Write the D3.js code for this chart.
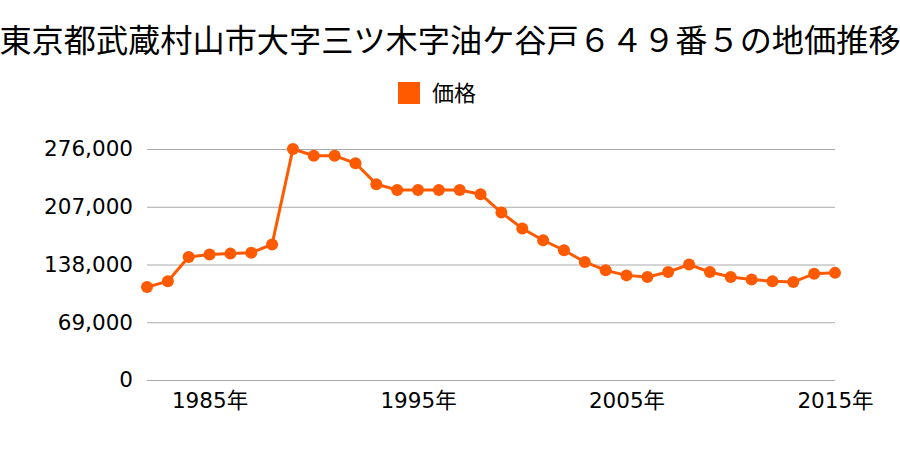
<!DOCTYPE html>
<html><head><meta charset="utf-8">
<script src="https://cdn.jsdelivr.net/npm/d3@7"></script>
<style>body{margin:0;background:#fff;} text{font-family:"Noto Sans CJK JP","Noto Sans",sans-serif;}</style>
</head><body><svg id="c" width="900" height="450"></svg>
<script>
const title = "東京都武蔵村山市大字三ツ木字油ケ谷戸６４９番５の地価推移";
const seriesName = "価格";
const years = [1982,1983,1984,1985,1986,1987,1988,1989,1990,1991,1992,1993,1994,1995,1996,1997,1998,1999,2000,2001,2002,2003,2004,2005,2006,2007,2008,2009,2010,2011,2012,2013,2014,2015];
const prices = [111000,118000,147000,150000,151000,152000,162000,276000,268000,268000,259000,234000,227000,227000,227000,227000,222000,200000,181000,167000,155000,141000,131000,125000,123000,129000,138000,129000,123000,120000,118000,117000,127000,128000];
const yTicks = [0,69000,138000,207000,276000];
const xTicks = [1985,1995,2005,2015];
const color = "#ff5a00";
const axisFont = "'DejaVu Sans','Noto Sans CJK JP',sans-serif";

const svg = d3.select("#c");
const x = d3.scaleLinear().domain([1982,2015]).range([147,835]);
const y = d3.scaleLinear().domain([0,276000]).range([380,149]);

svg.append("text").attr("x",450).attr("y",52).attr("text-anchor","middle")
  .attr("font-size",32.2).attr("fill","#000").text(title);

svg.append("rect").attr("x",398).attr("y",82).attr("width",22).attr("height",22).attr("fill",color);
svg.append("text").attr("x",432).attr("y",101).attr("font-size",22).attr("fill","#000").text(seriesName);

const yAxis = d3.axisLeft(y).tickValues(yTicks).tickSize(-(835-147)).tickPadding(14)
  .tickFormat(d3.format(","));
const gy = svg.append("g").attr("transform","translate(147,0)").call(yAxis);
gy.select(".domain").remove();
gy.selectAll("line").attr("stroke","#aaa").attr("stroke-width",1);
gy.selectAll("text").attr("font-size",21.5).attr("fill","#000").style("font-family",axisFont);

const xAxis = d3.axisBottom(x).tickValues(xTicks).tickSize(0).tickPadding(13).tickFormat(d=>d+"年");
const gx = svg.append("g").attr("transform","translate(0,380)").call(xAxis);
gx.select(".domain").remove();
gx.selectAll("text").attr("font-size",21.5).attr("fill","#000").style("font-family",axisFont);

const data = years.map((yr,i)=>({yr,v:prices[i]}));
svg.append("path").datum(data).attr("fill","none").attr("stroke",color).attr("stroke-width",3)
  .attr("d",d3.line().x(d=>x(d.yr)).y(d=>y(d.v)));
svg.selectAll("circle.pt").data(data).enter().append("circle").attr("class","pt")
  .attr("cx",d=>x(d.yr)).attr("cy",d=>y(d.v)).attr("r",6).attr("fill",color);
</script></body></html>
